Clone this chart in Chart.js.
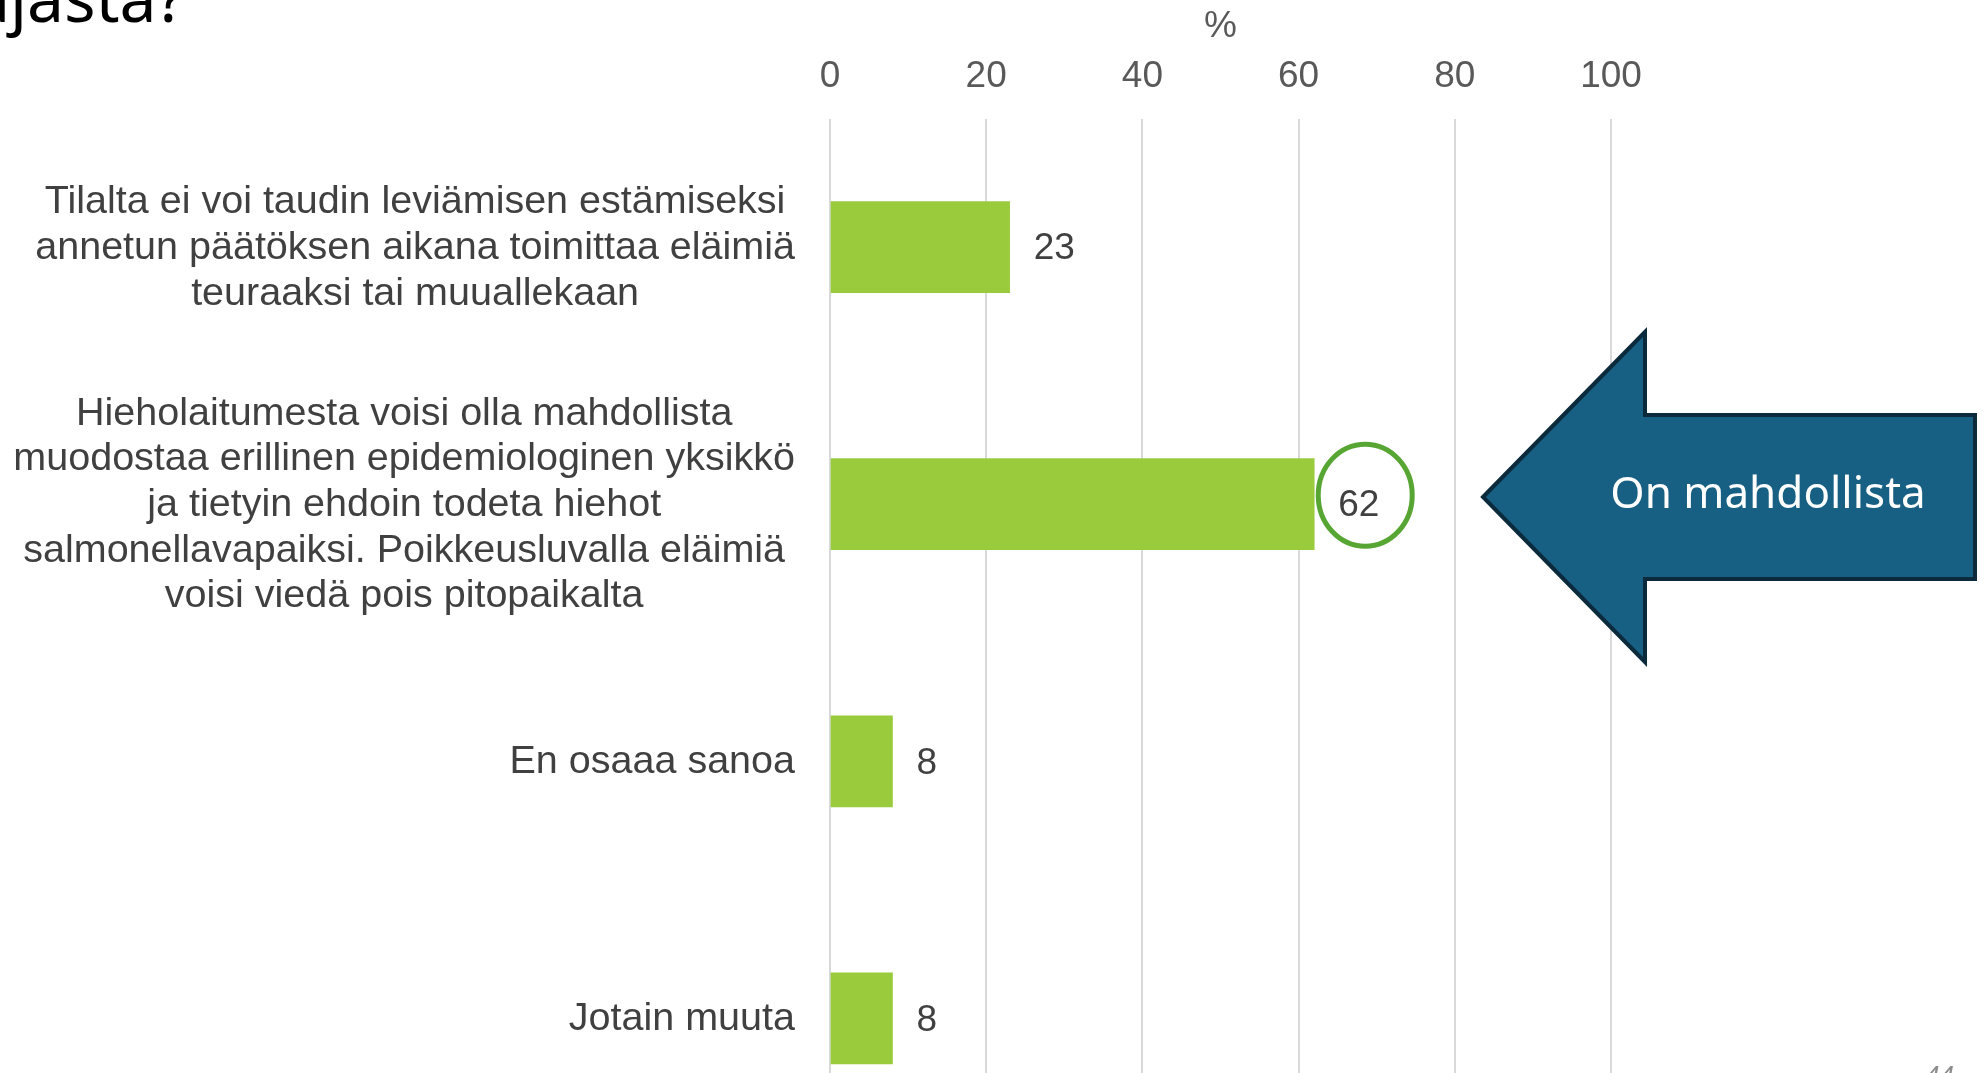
<!DOCTYPE html>
<html>
<head>
<meta charset="utf-8">
<script src="https://cdn.jsdelivr.net/npm/chart.js@4.4.1/dist/chart.umd.min.js"></script>
<style>
  html, body { margin: 0; padding: 0; background: #fff; overflow: hidden; }
  #wrap { position: relative; width: 1985px; height: 1147px; }
</style>
</head>
<body>
<div id="wrap"><canvas id="chart"></canvas></div>
<script>
// Data
const categories = [
  ['Tilalta ei voi taudin leviämisen estämiseksi', 'annetun päätöksen aikana toimittaa eläimiä', 'teuraaksi tai muuallekaan'],
  ['Hieholaitumesta voisi olla mahdollista', 'muodostaa erillinen epidemiologinen yksikkö', 'ja tietyin ehdoin todeta hiehot', 'salmonellavapaiksi. Poikkeusluvalla eläimiä', 'voisi viedä pois pitopaikalta'],
  ['En osaaa sanoa'],
  ['Jotain muuta']
];
const shares = [23, 62, 8, 8];
const xTicks = [0, 20, 40, 60, 80, 100];
const axisTitle = '%';
const calloutText = 'On mahdollista';
const titleFragment = 'ajasta?';
const pageNumber = '44';

const arial = '"Liberation Sans", Arial, sans-serif';

// labels, value texts, circle and arrow
const decorations = {
  id: 'decorations',
  afterDraw(chart) {
    const ctx = chart.ctx;
    const yScale = chart.scales.y;
    const area = chart.chartArea;
    ctx.save();

    // category labels: each block right aligned, lines centered in block
    ctx.font = '39.5px ' + arial;
    ctx.fillStyle = '#404040';
    ctx.textAlign = 'center';
    ctx.textBaseline = 'middle';
    const lineH = 45.6;
    categories.forEach((lines, i) => {
      const cy = yScale.getPixelForTick(i);
      const widest = Math.max(...lines.map(l => ctx.measureText(l).width));
      const cx = area.left - 35 - widest / 2;
      lines.forEach((l, k) => {
        ctx.fillText(l, cx, cy + 1 + (k - (lines.length - 1) / 2) * lineH);
      });
    });

    // value labels
    const meta = chart.getDatasetMeta(0);
    ctx.font = '37px ' + arial;
    ctx.textAlign = 'left';
    meta.data.forEach((bar, i) => {
      ctx.fillText(String(shares[i]), bar.x + 24, bar.y + 2);
    });

    // green circle round the biggest value
    const hb = meta.data[1];
    ctx.beginPath();
    ctx.ellipse(hb.x + 51, hb.y - 9, 47, 51, 0, 0, Math.PI * 2);
    ctx.lineWidth = 5;
    ctx.strokeStyle = '#57A633';
    ctx.stroke();

    // arrow
    ctx.beginPath();
    ctx.moveTo(1483, 497);
    ctx.lineTo(1645, 332);
    ctx.lineTo(1645, 415);
    ctx.lineTo(1975, 415);
    ctx.lineTo(1975, 579);
    ctx.lineTo(1645, 579);
    ctx.lineTo(1645, 662);
    ctx.closePath();
    ctx.fillStyle = '#175F83';
    ctx.fill();
    ctx.lineWidth = 4;
    ctx.strokeStyle = '#0B2A3C';
    ctx.stroke();

    ctx.fillStyle = '#ffffff';
    ctx.font = '44px "Noto Sans", sans-serif';
    ctx.textAlign = 'center';
    ctx.textBaseline = 'middle';
    ctx.fillText(calloutText, 1768, 495);

    // cut-off slide title
    ctx.fillStyle = '#000000';
    ctx.font = '66px "Noto Sans", sans-serif';
    ctx.textAlign = 'left';
    ctx.textBaseline = 'alphabetic';
    const aw = ctx.measureText('a').width;
    ctx.fillText(titleFragment, 10 - aw, 22);

    // page number, mostly cut off
    ctx.fillStyle = '#8C8C8C';
    ctx.font = 'italic 26px ' + arial;
    ctx.textBaseline = 'top';
    ctx.fillText(pageNumber, 1925, 1064);

    ctx.restore();
  }
};

new Chart(document.getElementById('chart'), {
  type: 'bar',
  data: {
    labels: categories,
    datasets: [{
      data: shares,
      backgroundColor: '#9ACB3C',
      barThickness: 91
    }]
  },
  plugins: [decorations],
  options: {
    indexAxis: 'y',
    responsive: true,
    maintainAspectRatio: false,
    animation: false,
    layout: { padding: { left: 0, right: 374, top: 0, bottom: 0 } },
    plugins: {
      legend: { display: false },
      tooltip: { enabled: false }
    },
    scales: {
      x: {
        position: 'top',
        min: 0,
        max: 100,
        afterBuildTicks: s => { s.ticks = xTicks.map(v => ({ value: v })); },
        ticks: {
          color: '#595959',
          font: { family: arial, size: 37 },
          padding: 19.5
        },
        grid: { color: '#D9D9D9', lineWidth: 2, drawTicks: false },
        border: { display: false },
        title: {
          display: true,
          text: axisTitle,
          color: '#595959',
          font: { family: arial, size: 37 },
          padding: { top: 4.5, bottom: 0 }
        },
        afterFit: s => { s.height = 118.5; }
      },
      y: {
        ticks: { display: false },
        grid: { display: false },
        border: { display: false },
        afterFit: s => { s.width = 830; }
      }
    }
  }
});
</script>
</body>
</html>
